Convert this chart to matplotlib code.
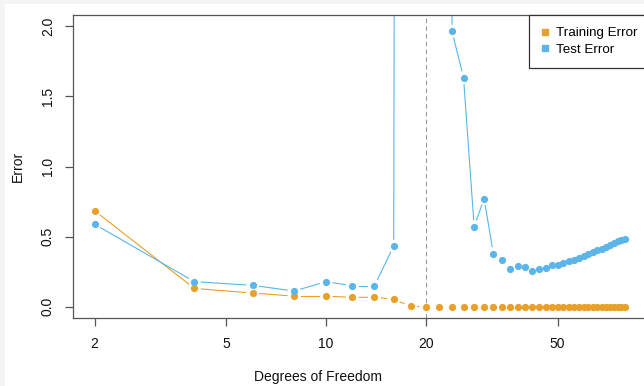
#Training vs test error against degrees of freedom (log x axis).
import matplotlib
matplotlib.use('Agg')
import matplotlib.pyplot as plt
from matplotlib.patches import Rectangle
from matplotlib.ticker import FixedLocator, NullLocator
import numpy as np

plt.rcParams['font.family'] = ['Liberation Sans', 'DejaVu Sans']

df = list(range(2, 82, 2))
train_err = [0.684, 0.131, 0.098, 0.076, 0.076, 0.067, 0.068, 0.053, 0.004, 0.0,
             0.0, 0.0, 0.0, 0.0, 0.0, 0.0, 0.0, 0.0, 0.0, 0.0,
             0.0, 0.0, 0.0, 0.0, 0.0, 0.0, 0.0, 0.0, 0.0, 0.0,
             0.0, 0.0, 0.0, 0.0, 0.0, 0.0, 0.0, 0.0, 0.0, 0.0]
# values at 18, 20 and 22 are far off the top of the chart
test_err = [0.588, 0.179, 0.153, 0.112, 0.179, 0.150, 0.150, 0.433, 60.0, 120.0,
            45.0, 1.964, 1.634, 0.571, 0.771, 0.379, 0.331, 0.267, 0.293, 0.281,
            0.257, 0.269, 0.279, 0.296, 0.298, 0.314, 0.326, 0.336, 0.348, 0.362,
            0.376, 0.388, 0.403, 0.414, 0.429, 0.443, 0.455, 0.469, 0.478, 0.484]
xticks = [2, 5, 10, 20, 50]
yticks = [0.0, 0.5, 1.0, 1.5, 2.0]

orange = '#E8A02A'
blue = '#5BB5E8'

W, H = 644, 386
fig = plt.figure(figsize=(W / 100, H / 100), dpi=100)
fig.patch.set_facecolor('#f4f4f4')
fig.patches.append(Rectangle((5 / W, 0), 1, (H - 4) / H, transform=fig.transFigure,
                             facecolor='white', edgecolor='none', zorder=-10))

l, r, t, b = 73, 646, 15, 318
ax = fig.add_axes([l / W, 1 - b / H, (r - l) / W, (b - t) / H])
ax.set_xscale('log')
ax.set_xlim(1.72, 92.5)
ax.set_ylim(-0.08, 2.08)


def gapped_lines(x, y, color, gap=7):
    # R type="b": segments stop short of each point
    pts = ax.transData.transform(np.column_stack([x, y]))
    inv = ax.transData.inverted()
    for p0, p1 in zip(pts[:-1], pts[1:]):
        d = p1 - p0
        n = np.hypot(*d)
        if n <= 2 * gap:
            continue
        u = d / n
        seg = inv.transform(np.array([p0 + u * gap, p1 - u * gap]))
        ax.plot(seg[:, 0], seg[:, 1], color=color, lw=0.8, zorder=2)


ax.axvline(20, color='#999999', ls=(0, (4, 3)), lw=0.8, zorder=1)
gapped_lines(df, train_err, orange)
gapped_lines(df, test_err, blue)
ax.plot(df, train_err, 'o', color=orange, ms=5.2, mec='none', zorder=3)
ax.plot(df, test_err, 'o', color=blue, ms=5.2, mec='none', zorder=3)

ax.xaxis.set_major_locator(FixedLocator(xticks))
ax.xaxis.set_minor_locator(NullLocator())
ax.set_xticklabels([str(v) for v in xticks])
ax.set_yticks(yticks)
ax.set_yticklabels(['%.1f' % v for v in yticks], rotation=90, va='center')
ax.tick_params(axis='both', direction='out', length=6, width=0.9, color='#555555',
               labelsize=10, labelcolor='#111111')
ax.tick_params(axis='x', pad=8)
ax.tick_params(axis='y', pad=7)
for s in ax.spines.values():
    s.set_color('#555555')
    s.set_linewidth(0.9)

fig.text(318 / W, 1 - 377 / H, 'Degrees of Freedom', ha='center', va='center',
         fontsize=10, color='#111111')
fig.text(18 / W, 1 - 166 / H, 'Error', ha='center', va='center', rotation=90,
         fontsize=10, color='#111111')

h1 = plt.Line2D([], [], marker='s', ls='none', color=orange, ms=4.5)
h2 = plt.Line2D([], [], marker='s', ls='none', color=blue, ms=4.5)
leg = ax.legend([h1, h2], ['Training Error', 'Test Error'], loc='upper right',
                bbox_to_anchor=(1.006, 1),
                borderaxespad=0, fancybox=False, framealpha=1, edgecolor='#333333',
                fontsize=9.6, handlelength=0.6, handletextpad=0.5, labelspacing=0.3,
                borderpad=0.9)
leg.get_frame().set_linewidth(0.9)

fig.savefig('out.png', dpi=100)
